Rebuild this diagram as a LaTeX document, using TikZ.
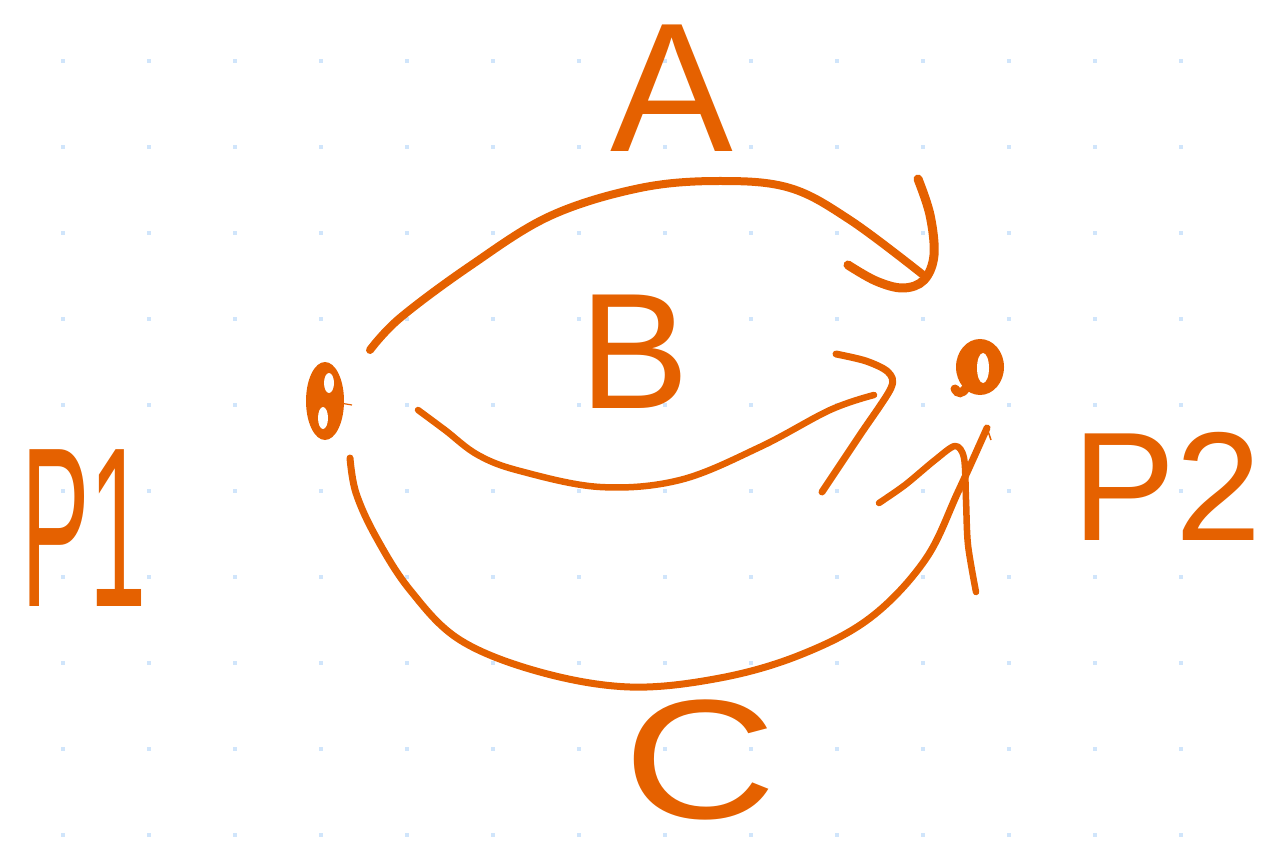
\documentclass[tikz,border=0pt]{standalone}
\usepackage{fontspec}
\setmainfont{Liberation Sans}
\definecolor{ink}{HTML}{E56100}
\definecolor{gdot}{HTML}{D0E5FB}
\tikzset{
  stroke/.style={draw=ink, line width=8pt, line cap=round, line join=round},
  thinstroke/.style={draw=ink, line width=6.5pt, line cap=round, line join=round},
  lbl/.style={text=ink, inner sep=0pt, anchor=base},
}
\begin{document}
\begin{tikzpicture}[x=1pt,y=-1pt]
\useasboundingbox (0,0) rectangle (1263,858);
% dot grid
\foreach \gx in {63,149,...,1181}{
  \foreach \gy in {61,147,...,835}{
    \fill[gdot] (\gx-2.2,\gy-2.2) rectangle (\gx+2.2,\gy+2.2);
  }
}
% points
\coordinate (p1) at (325,401);
\coordinate (p2) at (980,367);
\fill[ink] (p1) ellipse [x radius=19, y radius=39];
\fill[white] (329,383) ellipse [x radius=5, y radius=10];
\fill[white] (323,418) ellipse [x radius=5, y radius=11];
\draw[ink, line width=1.2pt] (340,403) -- (352,405);
\fill[ink] (p2) ellipse [x radius=24, y radius=28];
\fill[white] (983,368) ellipse [x radius=6, y radius=15];
\draw[ink, line width=9pt, line cap=round] (966,388) .. controls (962,394) and (958,394) .. (955,389);
% path A
\draw[stroke] plot[smooth, tension=0.6] coordinates {(370,350) (400,318) (470,266) (550,216) (640,188) (720,181) (790,188) (850,220) (922,274)};
\draw[stroke, line width=9pt] plot[smooth, tension=0.6] coordinates {(918,179) (930,215) (934,255) (924,280) (903,288) (876,281) (848,265)};
% path B
\draw[thinstroke] plot[smooth, tension=0.6] coordinates {(418,410) (445,430) (478,455) (520,471) (600,487) (680,480) (760,447) (830,410) (874,395)};
\draw[thinstroke, line width=7pt] plot[smooth, tension=0.5] coordinates {(836,354) (866,361) (888,372) (891,388) (860,435) (822,492)};
% path C
\draw[thinstroke, line width=7pt] plot[smooth, tension=0.6] coordinates {(350,458) (356,493) (376,537) (410,590) (460,640) (540,672) (630,687) (720,678) (800,655) (870,618) (925,560) (958,492) (987,428)};
\draw[thinstroke] plot[smooth, tension=0.5] coordinates {(879,503) (905,485) (935,460) (955,446) (964,458) (966,500) (968,545) (976,592)};
\draw[ink, line width=1.5pt] (987,428) -- (991,440);
% labels
\node[lbl, font=\fontsize{184}{184}\selectfont] (A) at (672,152) {A};
\node[lbl, font=\fontsize{165}{165}\selectfont] (B) at (635,408) {B};
\node[lbl, font=\fontsize{170}{170}\selectfont, xscale=1.25] (C) at (700,818) {C};
\node[lbl, font=\fontsize{228}{228}\selectfont, xscale=0.45] (P1) at (84,606) {P1};
\node[lbl, font=\fontsize{155}{155}\selectfont] (P2) at (1167,540) {P2};
\end{tikzpicture}
\end{document}
